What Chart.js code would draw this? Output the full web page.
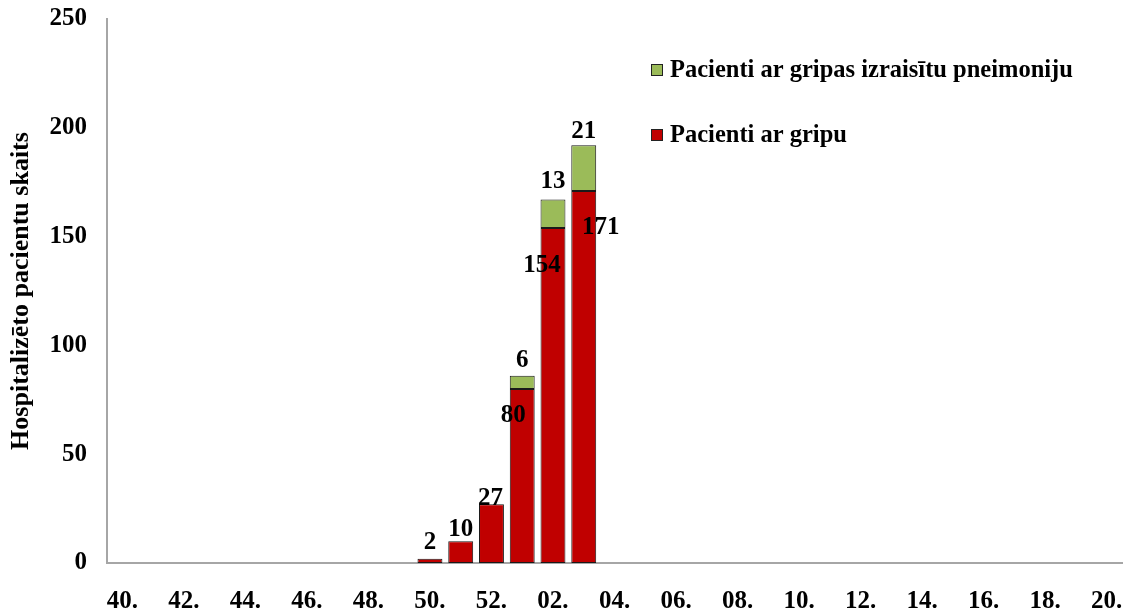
<!DOCTYPE html>
<html>
<head>
<meta charset="utf-8">
<script src="https://cdn.jsdelivr.net/npm/chart.js@4"></script>
<style>
  html, body { margin: 0; padding: 0; background: #ffffff; }
  #wrap { width: 1131px; height: 613px; }
</style>
</head>
<body>
<div id="wrap"><canvas id="c" width="1131" height="613"></canvas></div>
<script>
// ---- DATA ----
const weeks = ["40.","41.","42.","43.","44.","45.","46.","47.","48.","49.","50.","51.","52.",
               "01.","02.","03.","04.","05.","06.","07.","08.","09.","10.","11.","12.",
               "13.","14.","15.","16.","17.","18.","19.","20."];
const gripa = [null,null,null,null,null,null,null,null,null,null,2,10,27,
               80,154,171,null,null,null,null,null,null,null,null,null,
               null,null,null,null,null,null,null,null];
const pneimonija = [null,null,null,null,null,null,null,null,null,null,null,null,null,
               6,13,21,null,null,null,null,null,null,null,null,null,
               null,null,null,null,null,null,null,null];
const seriesNames = ["Pacienti ar gripu", "Pacienti ar gripas izraisītu pneimoniju"];
const yTitle = "Hospitalizēto pacientu skaits";

// ---- STYLE ----
const COLORS = ["#C00000", "#9BBB59"];
const FONT = "'Liberation Serif', 'Times New Roman', serif";
// label offsets (px) relative to bar top centre, per series, by category index
const labelOffsets = [
  {10:[0,-16], 11:[0,-12], 12:[-1,-6], 13:[-9,27], 14:[-11,38], 15:[17,37]},
  {13:[0,-15], 14:[0,-18], 15:[0,-14]}
];

const valueLabels = {
  id: 'valueLabels',
  afterDatasetsDraw(chart) {
    const ctx = chart.ctx;
    ctx.save();
    ctx.font = "bold 25px " + FONT;
    ctx.fillStyle = "#000";
    ctx.textAlign = "center";
    ctx.textBaseline = "middle";
    chart.data.datasets.forEach((ds, di) => {
      const meta = chart.getDatasetMeta(di);
      meta.data.forEach((el, i) => {
        const v = ds.data[i];
        if (v === null || v === undefined) return;
        const off = (labelOffsets[di] && labelOffsets[di][i]) || [0, -14];
        ctx.fillText(String(v), el.x + off[0], el.y + off[1]);
      });
    });
    ctx.restore();
  }
};

const customLegend = {
  id: 'customLegend',
  afterDraw(chart) {
    const ctx = chart.ctx;
    const order = [1, 0];
    ctx.save();
    ctx.font = "bold 24.5px " + FONT;
    ctx.textBaseline = "middle";
    ctx.textAlign = "left";
    order.forEach((di, k) => {
      const ds = chart.data.datasets[di];
      const cy = 70 + k * 65;
      ctx.fillStyle = ds.backgroundColor;
      ctx.fillRect(651, cy - 6, 12, 12);
      ctx.strokeStyle = "#222";
      ctx.lineWidth = 1;
      ctx.strokeRect(651.5, cy - 5.5, 11, 11);
      ctx.fillStyle = "#000";
      ctx.fillText(ds.label, 670, cy + 1);
    });
    ctx.restore();
  }
};

new Chart(document.getElementById('c'), {
  type: 'bar',
  data: {
    labels: weeks,
    datasets: [
      { label: seriesNames[0], data: gripa, backgroundColor: COLORS[0],
        borderColor: "#1a1a1a", borderWidth: 1, borderSkipped: false,
        barPercentage: 0.81, categoryPercentage: 1.0 },
      { label: seriesNames[1], data: pneimonija, backgroundColor: COLORS[1],
        borderColor: "#1a1a1a", borderWidth: 1, borderSkipped: false,
        barPercentage: 0.81, categoryPercentage: 1.0 }
    ]
  },
  options: {
    responsive: false,
    animation: false,
    layout: { padding: { left: 0, right: 9, top: 19, bottom: 0 } },
    plugins: {
      legend: { display: false },
      tooltip: { enabled: false },
      title: { display: false }
    },
    scales: {
      x: {
        stacked: true,
        grid: { display: false, drawTicks: false },
        border: { display: true, color: "#a6a6a6", width: 2 },
        ticks: {
          autoSkip: false, maxRotation: 0, minRotation: 0,
          padding: 24, color: "#000",
          font: { family: FONT, size: 25, weight: 'bold' },
          callback: function(val, idx) { return idx % 2 === 0 ? this.getLabelForValue(val) : ''; }
        },
        afterFit(scale) { scale.height = 50; scale.paddingLeft = 0; scale.paddingRight = 0; }
      },
      y: {
        stacked: true,
        min: 0, max: 250,
        grid: { display: false, drawTicks: false },
        border: { display: true, color: "#a6a6a6", width: 2 },
        ticks: {
          stepSize: 50, padding: 20, color: "#000",
          font: { family: FONT, size: 25, weight: 'bold' }
        },
        title: {
          display: true, text: yTitle, color: "#000",
          font: { family: FONT, size: 26, weight: 'bold' },
          padding: { top: 6, bottom: 0 }
        },
        afterFit(scale) { scale.width = 107; scale.paddingTop = 0; scale.paddingBottom = 0; }
      }
    }
  },
  plugins: [valueLabels, customLegend]
});
</script>
</body>
</html>
